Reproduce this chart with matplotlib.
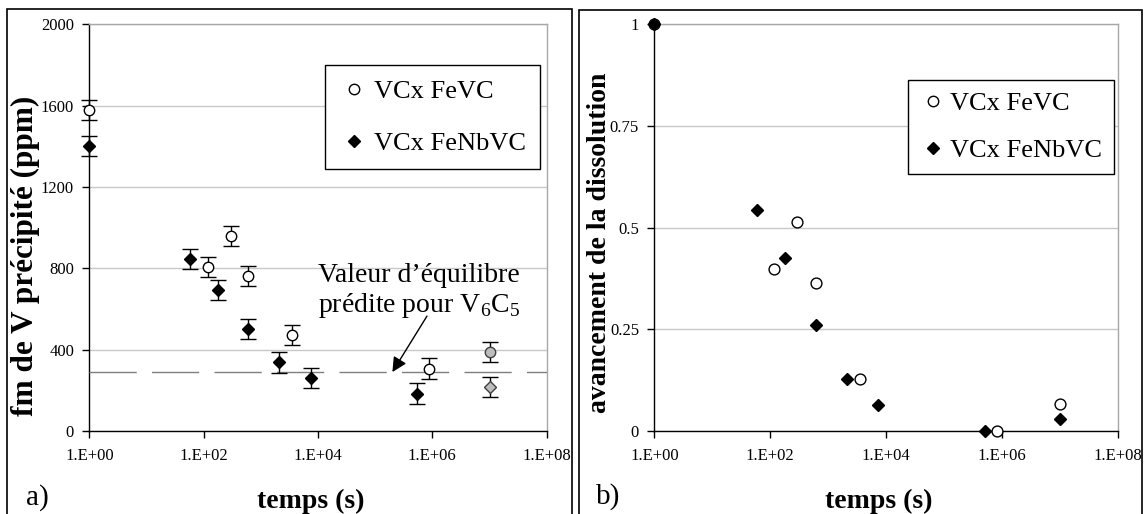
import matplotlib
matplotlib.use('Agg')
import matplotlib.pyplot as plt
from matplotlib.patches import Rectangle
from matplotlib.lines import Line2D
from matplotlib.ticker import FixedLocator, NullLocator

plt.rcParams['font.family'] = ['Liberation Serif', 'DejaVu Serif']
plt.rcParams['mathtext.fontset'] = 'custom'
plt.rcParams['mathtext.rm'] = 'Liberation Serif'

# ---------------- Panel a) data ----------------
fevc_t = [1, 118, 297, 593, 3550, 8.7e5]
fevc_fm = [1578, 808, 960, 761, 472, 307]
fevc_err = [50, 50, 50, 50, 50, 50]
fenbvc_t = [1, 58, 181, 593, 2065, 7400, 5.4e5]
fenbvc_fm = [1400, 846, 695, 501, 337, 260, 184]
fenbvc_err = [50, 50, 50, 50, 50, 50, 50]
gray_t = [1e7]
fevc_gray_fm = [389]
fevc_gray_err = [50]
fenbvc_gray_fm = [217]
fenbvc_gray_err = [50]
equilibre_v6c5 = 291

# ---------------- Panel b) data ----------------
fevc_t_b = [1, 118, 292, 607, 3550, 8.3e5, 1e7]
fevc_av = [1.0, 0.398, 0.515, 0.363, 0.128, 0.0, 0.066]
fenbvc_t_b = [1, 60, 183, 625, 2100, 7250, 5.1e5, 1e7]
fenbvc_av = [1.0, 0.544, 0.425, 0.261, 0.127, 0.064, 0.0, 0.030]

# ---------------- ticks / labels ----------------
xtick_vals = [1, 1e2, 1e4, 1e6, 1e8]
xtick_labels = ['1.E+00', '1.E+02', '1.E+04', '1.E+06', '1.E+08']
yticks_a = [0, 400, 800, 1200, 1600, 2000]
ytick_labels_a = ['0', '400', '800', '1200', '1600', '2000']
yticks_b = [0, 0.25, 0.5, 0.75, 1]
ytick_labels_b = ['0', '0.25', '0.5', '0.75', '1']
series_labels = ['VCx FeVC', 'VCx FeNbVC']

W, H = 1145, 514
fig = plt.figure(figsize=(W / 100, H / 100), dpi=100)


def px_axes(x0, x1, ytop, ybot):
    return fig.add_axes([x0 / W, (H - ybot) / H, (x1 - x0) / W, (ybot - ytop) / H])


ax1 = px_axes(89.3, 546.7, 24.3, 431)
ax2 = px_axes(654.3, 1117.7, 24.3, 431)

# panel frames
fig.add_artist(Rectangle((7.3 / W, -0.05), (571.7 - 7.3) / W, (H - 9.3) / H + 0.05,
                         transform=fig.transFigure, fill=False, lw=1.2, ec='black'))
fig.add_artist(Rectangle((579.3 / W, -0.05), (1141.7 - 579.3) / W, (H - 10) / H + 0.05,
                         transform=fig.transFigure, fill=False, lw=1.2, ec='black'))


def style(ax, yticks, ylabels, ylim):
    ax.set_xscale('log')
    ax.set_xlim(1, 1e8)
    ax.set_ylim(*ylim)
    for s in ['top', 'right']:
        ax.spines[s].set_color('#a8a8a8')
        ax.spines[s].set_linewidth(1)
    for s in ['left', 'bottom']:
        ax.spines[s].set_color('black')
        ax.spines[s].set_linewidth(1)
    ax.xaxis.set_major_locator(FixedLocator(xtick_vals))
    ax.xaxis.set_minor_locator(NullLocator())
    ax.set_xticklabels(xtick_labels)
    ax.set_yticks(yticks)
    ax.set_yticklabels(ylabels)
    ax.grid(axis='y', color='#c8c8c8', lw=1)
    ax.grid(axis='x', visible=False)
    ax.set_axisbelow(True)
    ax.tick_params(axis='x', direction='out', length=5, width=1, pad=7, labelsize=12)
    ax.tick_params(axis='y', direction='out', length=5, width=1, pad=6, labelsize=12)


style(ax1, yticks_a, ytick_labels_a, (0, 2000))
style(ax2, yticks_b, ytick_labels_b, (0, 1))

eb_kw = dict(ecolor='black', elinewidth=1, capsize=5.5, capthick=1, linestyle='none',
             clip_on=False, zorder=5)
ax1.errorbar(fevc_t, fevc_fm, yerr=fevc_err, marker='o', ms=7.5, mfc='white', mec='black',
             mew=1, **eb_kw)
ax1.errorbar(fenbvc_t, fenbvc_fm, yerr=fenbvc_err, marker='D', ms=6.3, mfc='black',
             mec='black', mew=1, **eb_kw)
ax1.errorbar(gray_t, fevc_gray_fm, yerr=fevc_gray_err, marker='o', ms=7.5, mfc='#bdbdbd',
             mec='#404040', mew=1, **eb_kw)
ax1.errorbar(gray_t, fenbvc_gray_fm, yerr=fenbvc_gray_err, marker='D', ms=6.3,
             mfc='#bdbdbd', mec='#404040', mew=1, **eb_kw)

eq = ax1.axhline(equilibre_v6c5, color='#7f7f7f', lw=1.0, zorder=3)
eq.set_dashes((34, 11))

ax1.annotate('', xy=(2.0e5, 290), xytext=(8.05e5, 565),
             arrowprops=dict(arrowstyle='-|>', color='black', lw=1, mutation_scale=22,
                             shrinkA=0, shrinkB=0))
ax1.text(1e4, 767, 'Valeur d’équilibre', fontsize=20, ha='left', va='center')
ax1.text(1e4, 615, r'prédite pour V$_{\mathregular{6}}$C$_{\mathregular{5}}$', fontsize=20,
         ha='left', va='center')

ax2.plot(fevc_t_b, fevc_av, linestyle='none', marker='o', ms=7.8, mfc='white', mec='black',
         mew=1, clip_on=False, zorder=5)
ax2.plot(fenbvc_t_b, fenbvc_av, linestyle='none', marker='D', ms=6.3, mfc='black',
         mec='black', mew=1, clip_on=False, zorder=6)

handles = [Line2D([], [], linestyle='none', marker='o', ms=7.5, mfc='white', mec='black'),
           Line2D([], [], linestyle='none', marker='D', ms=6.3, mfc='black', mec='black')]

leg1 = ax1.legend(handles, series_labels, loc='upper left', bbox_to_anchor=(0.515, 0.900),
                  frameon=True, fancybox=False, edgecolor='black', framealpha=1, fontsize=19,
                  handlelength=1.1, handletextpad=0.2, borderpad=0.55, labelspacing=1.08,
                  borderaxespad=0)
leg1.get_frame().set_linewidth(1)
leg2 = ax2.legend(handles, series_labels, loc='upper left', bbox_to_anchor=(0.548, 0.864),
                  frameon=True, fancybox=False, edgecolor='black', framealpha=1, fontsize=19,
                  handlelength=0.95, handletextpad=0.2, borderpad=0.45, labelspacing=0.9,
                  borderaxespad=0)
leg2.get_frame().set_linewidth(1)

# axis titles and panel letters
fig.text(311 / W, 1 - 501 / H, 'temps (s)', fontsize=20, fontweight='bold',
         ha='center', va='center')
fig.text(879 / W, 1 - 501 / H, 'temps (s)', fontsize=20, fontweight='bold',
         ha='center', va='center')
fig.text(25 / W, 1 - 256 / H, 'fm de V précipité (ppm)', fontsize=22.5, fontweight='bold',
         rotation=90, ha='center', va='center')
fig.text(599 / W, 1 - 243 / H, 'avancement de la dissolution', fontsize=20,
         fontweight='bold', rotation=90, ha='center', va='center')
fig.text(26 / W, 1 - 498 / H, 'a)', fontsize=21, ha='left', va='center')
fig.text(596 / W, 1 - 497 / H, 'b)', fontsize=21, ha='left', va='center')

fig.savefig('out.png', dpi=100)
